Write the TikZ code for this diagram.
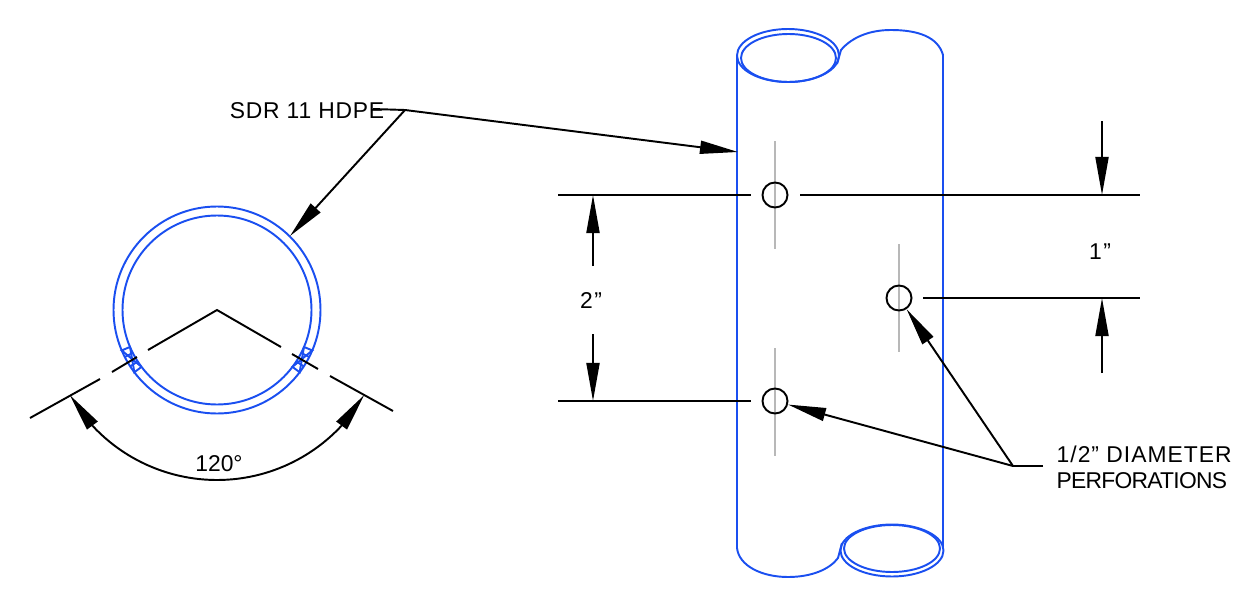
\documentclass[tikz,border=0pt]{standalone}
\usepackage{fontspec}
\setmainfont{Liberation Sans}
\usetikzlibrary{arrows.meta,calc}
\definecolor{pipeblue}{HTML}{1A4FF0}
\definecolor{axisgray}{HTML}{B8B8B8}

\begin{document}
\begin{tikzpicture}
[x=0.01cm,y=-0.01cm,%
  >={Stealth[length=0.38cm,width=0.13cm,inset=0pt]},%
  pipe/.style={draw=pipeblue,line width=0.55pt},%
  dimline/.style={draw=black,line width=0.55pt},%
  axis/.style={draw=axisgray,line width=0.55pt},%
  hole/.style={shape=circle,draw=black,line width=0.55pt,inner sep=0pt,minimum size=0.25cm},%
  lbl/.style={inner sep=0pt,font=\fontsize{6.5pt}{8pt}\selectfont}]
\useasboundingbox (0,0) rectangle (1245,606);

% ring section
\coordinate (ring) at (217,310);
\draw[pipe] (ring) circle[radius=103.5];
\draw[pipe] (ring) circle[radius=94.5];
\foreach \a in {150,30} {
  \draw[pipe] ($(ring)+(\a-7:94.5)$) -- ($(ring)+(\a-7:103.5)$) -- ($(ring)+(\a+7:94.5)$)
    -- ($(ring)+(\a+7:103.5)$) -- ($(ring)+(\a-7:94.5)$);
  \draw[pipe] ($(ring)+(\a-3:94.5)$) -- ($(ring)+(\a-3:103.5)$);
  \draw[pipe] ($(ring)+(\a+3:94.5)$) -- ($(ring)+(\a+3:103.5)$);
}

% 120 degree lines
\coordinate (apex) at (217,310);
\coordinate (la) at (148,350);
\coordinate (lb) at (137,357);
\coordinate (lc) at (112,372);
\coordinate (ld) at (100,379);
\coordinate (le) at (30,418);
\coordinate (ra) at (281,347);
\coordinate (rb) at (292,354);
\coordinate (rc) at (318,369);
\coordinate (rd) at (330,376);
\coordinate (re) at (393,411);
\coordinate (arcl) at ($(apex)+(150:170)$);
\coordinate (arcm) at ($(apex)+(137:170)$);
\coordinate (arcn) at ($(apex)+(43:170)$);
\coordinate (arcr) at ($(apex)+(30:170)$);
\draw[dimline] (la) -- (apex) -- (ra);
\draw[dimline] (lb) -- (lc);
\draw[dimline] (ld) -- (le);
\draw[dimline] (rb) -- (rc);
\draw[dimline] (rd) -- (re);
\draw[dimline] (arcm) arc[start angle=137,end angle=43,radius=170];
\path (arcm) edge[dimline,->] (arcl)
      (arcn) edge[dimline,->] (arcr);
\node[lbl] (angle) at (219,464) {120°};

% pipe outline
\draw[pipe] (788,55.5) ellipse[x radius=51,y radius=26.5];
\draw[pipe] (788.5,58) ellipse[x radius=47.5,y radius=24];
\draw[pipe] (737,55) -- (737,548)
  .. controls (739,566) and (762,577) .. (788,577)
  .. controls (812,577) and (830,569) .. (838,558) -- (842,543);
\draw[pipe] (837,64) -- (841,50)
  .. controls (852,37) and (870,30) .. (891,30)
  .. controls (918,30) and (938,37) .. (943,55) -- (943,548);
\draw[pipe] (892,550.5) ellipse[x radius=51.5,y radius=26];
\draw[pipe] (892,548.5) ellipse[x radius=48,y radius=23.5];

% perforations
\draw[axis] (775,141) -- (775,249);
\draw[axis] (899,244) -- (899,352);
\draw[axis] (775,348) -- (775,456);
\node[hole] (topHole) at (775,195) {};
\node[hole] (sideHole) at (899,298) {};
\node[hole] (lowHole) at (775,401) {};

% 2 inch dimension
\coordinate (tl) at (558,195);
\coordinate (te) at (751,195);
\coordinate (bl) at (558,401);
\coordinate (be) at (751,401);
\coordinate (tm) at (593,195);
\coordinate (bm) at (593,401);
\coordinate (tf) at (593,266);
\coordinate (bf) at (593,334);
\path (tl) edge[dimline] (te)
      (bl) edge[dimline] (be)
      (tf) edge[dimline,->] (tm)
      (bf) edge[dimline,->] (bm);
\node[lbl] (twoIn) at (591,301) {\addfontfeature{LetterSpace=7}2”};

% 1 inch dimension
\coordinate (ts) at (800,195);
\coordinate (tr) at (1140,195);
\coordinate (ss) at (923,298);
\coordinate (sr) at (1140,298);
\coordinate (um) at (1102,195);
\coordinate (uf) at (1102,121);
\coordinate (dm) at (1102,298);
\coordinate (df) at (1102,373);
\path (ts) edge[dimline] (tr)
      (ss) edge[dimline] (sr)
      (uf) edge[dimline,->] (um)
      (df) edge[dimline,->] (dm);
\node[lbl] (oneIn) at (1100,252) {\addfontfeature{LetterSpace=7}1”};

% leaders
\node[lbl] (hdpe) at (307,111) {\addfontfeature{LetterSpace=3.4}SDR 11 HDPE};
\coordinate (hs) at (373,109);
\coordinate (he) at (405,110);
\coordinate (ht) at (738,152);
\coordinate (hr) at (290,236);
\path (hs) edge[dimline] (he)
      (he) edge[dimline,->] (ht)
      (he) edge[dimline,->] (hr);

\node[lbl,anchor=west] (dia) at (1056,454) {\addfontfeature{LetterSpace=4.4}1/2” DIAMETER};
\node[lbl,anchor=west] (perf) at (1056,481) {\addfontfeature{LetterSpace=-3.3}PERFORATIONS};
\coordinate (ps) at (1043,466);
\coordinate (pe) at (1013,466);
\path (ps) edge[dimline] (pe)
      (pe) edge[dimline,->] (lowHole)
      (pe) edge[dimline,->] (sideHole);
\end{tikzpicture}
\end{document}
